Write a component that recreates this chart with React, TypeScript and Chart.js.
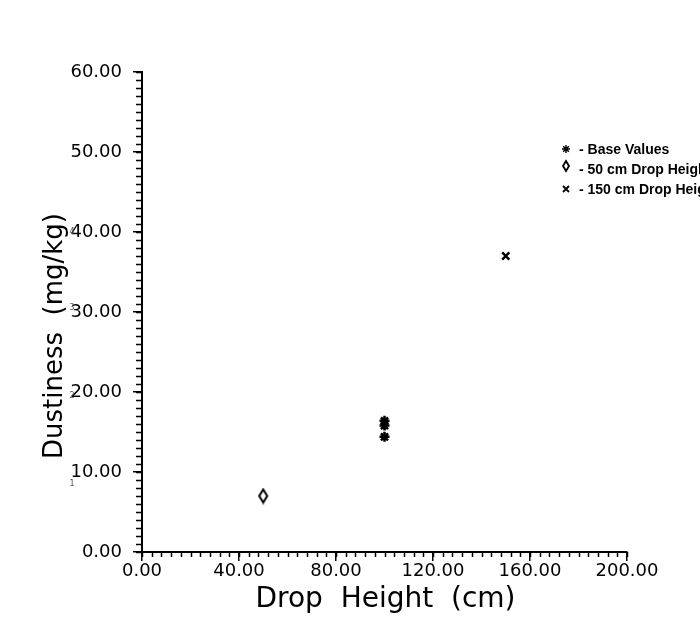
import { useEffect, useRef } from 'react';
import { Chart, registerables } from 'chart.js';

Chart.register(...registerables);

// ---- data ----
const LEGEND_LABELS = ['- Base Values', '- 50 cm Drop Height', '- 150 cm Drop Height'];
const BASE_X = [100, 100, 100];
const BASE_Y = [16.4, 15.8, 14.4];
const DROP50_X = [50];
const DROP50_Y = [7.0];
const DROP150_X = [150];
const DROP150_Y = [37.0];
const X_TICKS = [0, 40, 80, 120, 160, 200];
const Y_TICKS = [0, 10, 20, 30, 40, 50, 60];
const X_MINOR_STEP = 4;
const Y_MINOR_STEP = 1;
const X_TITLE = 'Drop  Height  (cm)';
const Y_TITLE = 'Dustiness  (mg/kg)';
const SIDE_MARKS = ['1', '2', '3', '4'];
const SIDE_MARK_Y = [8.5, 19.5, 30.5, 40];

const FONT = '"DejaVu Sans", sans-serif';

function makeDiamond(w: number, h: number, lw: number) {
  const c = document.createElement('canvas');
  c.width = w + 4;
  c.height = h + 4;
  const g = c.getContext('2d')!;
  g.strokeStyle = '#000';
  g.lineWidth = lw;
  const cx = c.width / 2, cy = c.height / 2;
  g.beginPath();
  g.moveTo(cx, cy - h / 2);
  g.lineTo(cx + w / 2, cy);
  g.lineTo(cx, cy + h / 2);
  g.lineTo(cx - w / 2, cy);
  g.closePath();
  g.stroke();
  return c;
}

function drawStar(ctx: CanvasRenderingContext2D, x: number, y: number, r: number, lw: number) {
  ctx.lineWidth = lw;
  ctx.beginPath();
  for (let i = 0; i < 4; i++) {
    const a = (i * Math.PI) / 4;
    ctx.moveTo(x - r * Math.cos(a), y - r * Math.sin(a));
    ctx.lineTo(x + r * Math.cos(a), y + r * Math.sin(a));
  }
  ctx.stroke();
}

function drawX(ctx: CanvasRenderingContext2D, x: number, y: number, r: number, lw: number) {
  ctx.lineWidth = lw;
  ctx.beginPath();
  ctx.moveTo(x - r, y - r);
  ctx.lineTo(x + r, y + r);
  ctx.moveTo(x - r, y + r);
  ctx.lineTo(x + r, y - r);
  ctx.stroke();
}

const decorPlugin = {
  id: 'decor',
  afterDraw(chart: any) {
    const ctx: CanvasRenderingContext2D = chart.ctx;
    const xs = chart.scales.x;
    const ys = chart.scales.y;
    ctx.save();
    ctx.strokeStyle = '#000';
    ctx.fillStyle = '#000';
    // minor ticks
    ctx.lineWidth = 1.5;
    ctx.beginPath();
    for (let v = xs.min; v <= xs.max + 1e-9; v += X_MINOR_STEP) {
      const px = Math.round(xs.getPixelForValue(v)) + 0.5;
      ctx.moveTo(px, xs.top);
      ctx.lineTo(px, xs.top + 5);
    }
    for (let v = ys.min; v <= ys.max + 1e-9; v += Y_MINOR_STEP) {
      const py = Math.round(ys.getPixelForValue(v)) + 0.5;
      ctx.moveTo(ys.right, py);
      ctx.lineTo(ys.right - 6, py);
    }
    ctx.stroke();

    // axis titles
    ctx.textAlign = 'center';
    ctx.textBaseline = 'alphabetic';
    ctx.font = `28px ${FONT}`;
    ctx.fillText(X_TITLE, (xs.left + xs.right) / 2 + 1, 607);
    ctx.save();
    ctx.font = `26px ${FONT}`;
    ctx.translate(62, 336);
    ctx.rotate(-Math.PI / 2);
    ctx.fillText(Y_TITLE, 0, 0);
    ctx.restore();

    // tiny side marks
    ctx.font = `8px ${FONT}`;
    ctx.fillStyle = '#555';
    ctx.textBaseline = 'middle';
    SIDE_MARKS.forEach((m, i) => {
      ctx.fillText(m, 72, ys.getPixelForValue(SIDE_MARK_Y[i]));
    });

    // legend
    ctx.fillStyle = '#000';
    ctx.strokeStyle = '#000';
    const lx = 566;
    const ly = [149, 169, 189];
    ctx.font = `bold 14px "Liberation Sans", Arial, sans-serif`;
    ctx.textAlign = 'left';
    ctx.textBaseline = 'middle';
    drawStar(ctx, lx, ly[0], 4, 1.4);
    const d = makeDiamond(6, 10, 1.8);
    ctx.drawImage(d, lx - d.width / 2, ly[1] - 3 - d.height / 2);
    drawX(ctx, lx, ly[2], 3, 1.8);
    LEGEND_LABELS.forEach((t, i) => ctx.fillText(t, lx + 13, ly[i] + 1));
    ctx.restore();
  },
};

export default function App() {
  const ref = useRef<HTMLCanvasElement>(null);
  useEffect(() => {
    const diamond = makeDiamond(8, 13, 2);
    const chart = new Chart(ref.current!, {
      type: 'scatter',
      data: {
        datasets: [
          {
            label: LEGEND_LABELS[0],
            data: BASE_X.map((x, i) => ({ x, y: BASE_Y[i] })),
            pointStyle: 'star',
            radius: 5,
            borderWidth: 2.5,
            borderColor: '#000',
            backgroundColor: '#000',
          },
          {
            label: LEGEND_LABELS[1],
            data: DROP50_X.map((x, i) => ({ x, y: DROP50_Y[i] })),
            pointStyle: diamond as any,
            radius: 6,
            borderColor: '#000',
          },
          {
            label: LEGEND_LABELS[2],
            data: DROP150_X.map((x, i) => ({ x, y: DROP150_Y[i] })),
            pointStyle: 'crossRot',
            radius: 5,
            borderWidth: 2.5,
            borderColor: '#000',
          },
        ],
      },
      options: {
        responsive: false,
        animation: false,
        events: [],
        layout: { padding: { left: 0, top: 72, right: 73, bottom: 0 } },
        plugins: { legend: { display: false }, tooltip: { enabled: false } },
        scales: {
          x: {
            type: 'linear',
            min: 0,
            max: 200,
            afterBuildTicks: (s: any) => {
              s.ticks = X_TICKS.map((v) => ({ value: v }));
            },
            afterFit: (s: any) => {
              s.height = 85;
            },
            ticks: {
              callback: (v: any) => Number(v).toFixed(2),
              font: { family: FONT, size: 18 },
              color: '#000',
              padding: 0,
              maxRotation: 0,
              autoSkip: false,
            },
            grid: {
              display: true,
              drawOnChartArea: false,
              drawTicks: true,
              tickLength: 9,
              color: '#000',
              lineWidth: 1.5,
            },
            border: { display: true, color: '#000', width: 2 },
          },
          y: {
            type: 'linear',
            min: 0,
            max: 60,
            afterBuildTicks: (s: any) => {
              s.ticks = Y_TICKS.map((v) => ({ value: v }));
            },
            afterFit: (s: any) => {
              s.width = 142;
            },
            ticks: {
              callback: (v: any) => Number(v).toFixed(2),
              font: { family: FONT, size: 18 },
              color: '#000',
              padding: 11,
              autoSkip: false,
            },
            grid: {
              display: true,
              drawOnChartArea: false,
              drawTicks: true,
              tickLength: 9,
              color: '#000',
              lineWidth: 1.5,
            },
            border: { display: true, color: '#000', width: 2 },
          },
        },
      },
      plugins: [decorPlugin],
    });
    return () => chart.destroy();
  }, []);
  return (
    <canvas
      ref={ref}
      width={700}
      height={637}
      style={{ position: 'absolute', left: 0, top: 0, display: 'block', background: '#fff' }}
    />
  );
}
